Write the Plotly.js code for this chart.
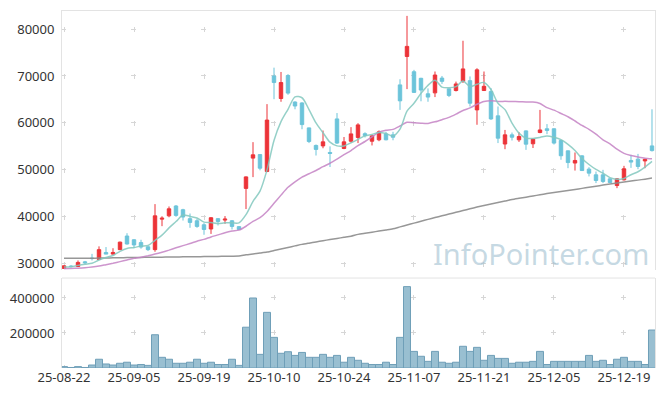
<!DOCTYPE html>
<html>
<head>
<meta charset="utf-8">
<script src="https://cdn.plot.ly/plotly-3.0.1.min.js"></script>
<style>
  html, body { margin: 0; padding: 0; background: #fff; }
  #chart { width: 665px; height: 396px; }
</style>
</head>
<body>
<div id="chart"></div>
<script>
// ---- data ----
const dates = [
  '25-08-22','25-08-25','25-08-26','25-08-27','25-08-28','25-08-29',
  '25-09-01','25-09-02','25-09-03','25-09-04','25-09-05',
  '25-09-08','25-09-09','25-09-10','25-09-11','25-09-12',
  '25-09-15','25-09-16','25-09-17','25-09-18','25-09-19',
  '25-09-22','25-09-23','25-09-24','25-09-25','25-09-26',
  '25-09-29','25-09-30','25-10-01','25-10-02','25-10-10',
  '25-10-13','25-10-14','25-10-15','25-10-16','25-10-17',
  '25-10-20','25-10-21','25-10-22','25-10-23','25-10-24',
  '25-10-27','25-10-28','25-10-29','25-10-30','25-10-31',
  '25-11-03','25-11-04','25-11-05','25-11-06','25-11-07',
  '25-11-10','25-11-11','25-11-12','25-11-13','25-11-14',
  '25-11-17','25-11-18','25-11-19','25-11-20','25-11-21',
  '25-11-24','25-11-25','25-11-26','25-11-27','25-11-28',
  '25-12-01','25-12-02','25-12-03','25-12-04','25-12-05',
  '25-12-08','25-12-09','25-12-10','25-12-11','25-12-12',
  '25-12-15','25-12-16','25-12-17','25-12-18','25-12-19',
  '25-12-22','25-12-23','25-12-24','25-12-26'
];

const opens = [
  29000,29500,29400,30400,31200,30900,32400,32050,33000,35900,
  35100,34500,33600,33000,39500,40200,42300,41500,39600,39150,
  38300,37400,39600,39300,39150,37900,46050,52500,53250,49650,
  70000,65200,70100,64450,64250,58940,55200,55100,53700,60850,
  54550,56100,56900,57700,56100,56400,57650,57450,68100,74150,
  70900,69500,66200,66400,69550,67250,66900,68850,69000,62770,
  66900,66700,61500,55500,57450,56400,58300,55550,57950,58750,
  58750,56250,54050,51450,52980,50150,48940,48940,48080,46660,
  47870,52000,52280,51900,55100
];
const highs = [
  29650,29700,30700,30600,32100,33700,33550,33300,34700,36500,
  35200,35100,33700,42700,40100,42200,42500,41700,40700,39600,
  38650,39900,39700,40150,39300,38000,48600,55900,53300,64000,
  71770,70850,70400,64600,64400,59000,55400,58370,55000,62100,
  57000,59100,59940,58000,57400,58400,58100,58100,69300,82800,
  71300,69600,67350,70950,70000,67300,68800,77500,69900,71650,
  70950,67400,63500,58500,57950,58000,58400,56650,62770,59750,
  58800,56400,54100,53700,53100,50550,49640,50000,48200,48200,
  50850,53200,53400,52300,62900
];
const lows = [
  28950,29200,29300,29900,30700,30800,32200,31900,32900,34100,
  33300,33200,32700,32550,38000,39900,40000,39200,37650,37650,
  36170,36350,38150,38500,37300,37200,41650,48450,49900,49500,
  65050,64500,66000,62900,58650,55700,53050,54600,50600,55500,
  54400,55800,55700,56900,55200,56100,56300,56300,62770,67200,
  66400,64600,64500,65500,68300,65500,66700,68500,63500,59600,
  66800,60640,55700,54400,56250,55950,54250,54650,57800,57600,
  55400,52150,50350,49850,49800,48600,47180,47180,47180,46100,
  47730,50420,50140,50350,53900
];
const closes = [
  29550,29400,30280,30200,31100,33000,32050,32400,34600,34200,
  34000,33550,33000,40200,39700,41700,40300,39950,38800,37950,
  37300,39800,39000,39500,37950,37300,48500,53200,50350,60600,
  68600,68600,66350,63600,59640,56030,54350,55960,53500,55700,
  55960,57660,59580,57300,57250,58100,56400,56950,64700,76300,
  66500,67000,65500,70200,68850,65850,68300,71500,64200,71300,
  67800,60850,56750,57450,56950,57100,55470,56550,58500,58400,
  55700,53000,51550,52000,49850,49300,47730,47520,47300,48080,
  50220,51650,50720,52250,54100
];
const volumes = [
  8000,3000,8000,3000,17000,50000,23000,17000,27000,33000,
  17000,20000,15000,190000,61000,50000,27000,27000,33000,50000,
  27000,33000,20000,20000,50000,15000,233000,400000,78000,318000,
  175000,84000,93000,72000,89000,61000,61000,78000,61000,72000,
  33000,61000,44000,27000,20000,20000,33000,20000,175000,465000,
  95000,67000,38000,95000,33000,27000,33000,124000,95000,118000,
  44000,72000,55000,55000,27000,33000,33000,38000,95000,20000,
  38000,38000,38000,38000,38000,72000,38000,44000,20000,50000,
  61000,38000,38000,20000,217000
];
const ma5 = [
  29300,29350,29650,29900,30106,30796,31326,31750,32630,33250,
  33450,33750,33870,34990,36090,37630,38980,40370,40090,39740,
  38860,38760,38570,38710,38710,38710,40450,43290,45460,49990,
  56250,60270,62900,65550,65358,62844,59994,57916,55896,55108,
  55094,55756,56480,57240,57550,57978,57726,57200,58680,62490,
  64170,66290,68000,69100,67610,67480,67740,68940,67740,68230,
  68620,67130,64180,62830,59960,57820,56744,56704,56914,57204,
  56924,56430,55430,54130,52420,51140,50086,49280,48340,47986,
  48170,48954,49594,50584,51788
];
const ma20 = [
  28950,28980,29050,29150,29300,29500,29800,30100,30450,30800,
  31150,31400,31700,32050,32450,32900,33400,33850,34300,34797,
  35184,35704,36140,36605,36948,37163,37985,39025,39813,41133,
  42863,44615,46283,47453,48450,49166,49869,50669,51404,52292,
  53225,54118,55147,56037,57002,58042,58437,58624,59342,60127,
  60022,59942,59899,60229,60690,61181,61878,62655,63190,63970,
  64562,64722,64580,64588,64573,64523,64476,64456,64146,63251,
  62711,62011,61314,60404,59454,58626,57598,56399,55554,54393,
  53514,53054,52752,52492,52350
];
const ma60 = [
  31150,31150,31160,31170,31180,31200,31220,31250,31280,31300,
  31330,31350,31370,31390,31400,31420,31440,31460,31480,31500,
  31520,31540,31560,31580,31610,31650,31900,32080,32270,32480,
  32800,33140,33470,33800,34120,34380,34640,34900,35150,35390,
  35620,35850,36250,36490,36720,36960,37200,37450,37850,38250,
  38650,39050,39450,39830,40200,40580,40950,41330,41700,42070,
  42400,42720,43030,43350,43680,43930,44180,44430,44690,44940,
  45150,45380,45600,45830,46050,46280,46520,46750,46970,47180,
  47390,47600,47810,48020,48240
];
const tickDates = ['25-08-22','25-09-05','25-09-19','25-10-10','25-10-24','25-11-07','25-11-21','25-12-05','25-12-19'];
const priceTicks = [30000,40000,50000,60000,70000,80000];
const volumeTicks = [200000,400000];

// ---- styling ----
const FONT = 'Noto Sans, Open Sans, sans-serif';
const GRID = '#d6d6d6';
const BORDER = '#e3e3e3';
const xRange = [-0.286, 84.43];

const traces = [
  {
    type: 'candlestick', x: dates, open: opens, high: highs, low: lows, close: closes,
    xaxis: 'x', yaxis: 'y',
    increasing: { line: { color: '#ec3338', width: 1 }, fillcolor: '#ec3338' },
    decreasing: { line: { color: '#6cc4da', width: 1 }, fillcolor: '#6cc4da' },
    whiskerwidth: 0, hoverinfo: 'skip', showlegend: false
  },
  {
    type: 'scatter', mode: 'lines', x: dates, y: ma60, xaxis: 'x', yaxis: 'y',
    line: { color: 'rgba(140,140,140,0.9)', width: 1.5, shape: 'spline', smoothing: 0.6 }, showlegend: false, hoverinfo: 'skip'
  },
  {
    type: 'scatter', mode: 'lines', x: dates, y: ma20, xaxis: 'x', yaxis: 'y',
    line: { color: 'rgba(196,130,196,0.85)', width: 1.5, shape: 'spline', smoothing: 0.6 }, showlegend: false, hoverinfo: 'skip'
  },
  {
    type: 'scatter', mode: 'lines', x: dates, y: ma5, xaxis: 'x', yaxis: 'y',
    line: { color: 'rgba(130,200,190,0.85)', width: 1.5, shape: 'spline', smoothing: 0.8 }, showlegend: false, hoverinfo: 'skip'
  },
  {
    type: 'bar', x: dates, y: volumes, xaxis: 'x2', yaxis: 'y2',
    marker: { color: 'rgba(142,184,204,0.9)', line: { color: '#6f9fb8', width: 1 } },
    showlegend: false, hoverinfo: 'skip'
  }
];

const layout = {
  width: 665, height: 396,
  margin: { l: 62, r: 10, t: 11, b: 28 },
  paper_bgcolor: '#ffffff', plot_bgcolor: '#ffffff',
  font: { family: FONT, size: 13, color: '#333333' },
  showlegend: false,
  bargap: 0,
  xaxis: {
    type: 'category', anchor: 'y', domain: [0, 1], range: xRange,
    categoryorder: 'array', categoryarray: dates,
    tickvals: tickDates, showticklabels: false, ticks: '',
    showgrid: true, gridcolor: GRID, gridwidth: 1, griddash: '0px,16px,5px,26px',
    side: 'top', showline: true, linecolor: BORDER, linewidth: 1,
    rangeslider: { visible: false }, zeroline: false, fixedrange: true
  },
  yaxis: {
    anchor: 'x', domain: [0.275, 1], range: [28700, 83840],
    tickvals: priceTicks, tickformat: 'd',
    showgrid: true, gridcolor: GRID, gridwidth: 1, griddash: '4px,65px,1px,0px',
    showline: true, mirror: true, linecolor: BORDER, linewidth: 1,
    zeroline: false, ticks: '', ticklabelstandoff: 4, fixedrange: true
  },
  xaxis2: {
    type: 'category', anchor: 'y2', domain: [0, 1], range: xRange,
    categoryorder: 'array', categoryarray: dates,
    tickvals: tickDates, ticktext: tickDates, ticks: '',
    showgrid: true, gridcolor: GRID, gridwidth: 1, griddash: '0px,17px,5px,13px',
    showline: false, zeroline: false, fixedrange: true
  },
  yaxis2: {
    anchor: 'x2', domain: [0, 0.252], range: [0, 514000],
    tickvals: volumeTicks, tickformat: 'd',
    showgrid: true, gridcolor: GRID, gridwidth: 1, griddash: '4px,65px,1px,0px',
    showline: true, mirror: true, linecolor: BORDER, linewidth: 1,
    zeroline: false, ticks: '', ticklabelstandoff: 4, fixedrange: true
  },
  shapes: [
    { type: 'line', xref: 'paper', yref: 'y2 domain', x0: 0, x1: 1, y0: 1, y1: 1,
      line: { color: BORDER, width: 1 } }
  ],
  annotations: [
    { text: 'InfoPointer.com', xref: 'paper', yref: 'paper', x: 0.993, y: 0.26,
      xanchor: 'right', yanchor: 'bottom', showarrow: false,
      font: { family: FONT, size: 29, color: 'rgba(160,192,208,0.6)' } }
  ]
};

Plotly.newPlot('chart', traces, layout, { staticPlot: true, displayModeBar: false });
</script>
</body>
</html>
